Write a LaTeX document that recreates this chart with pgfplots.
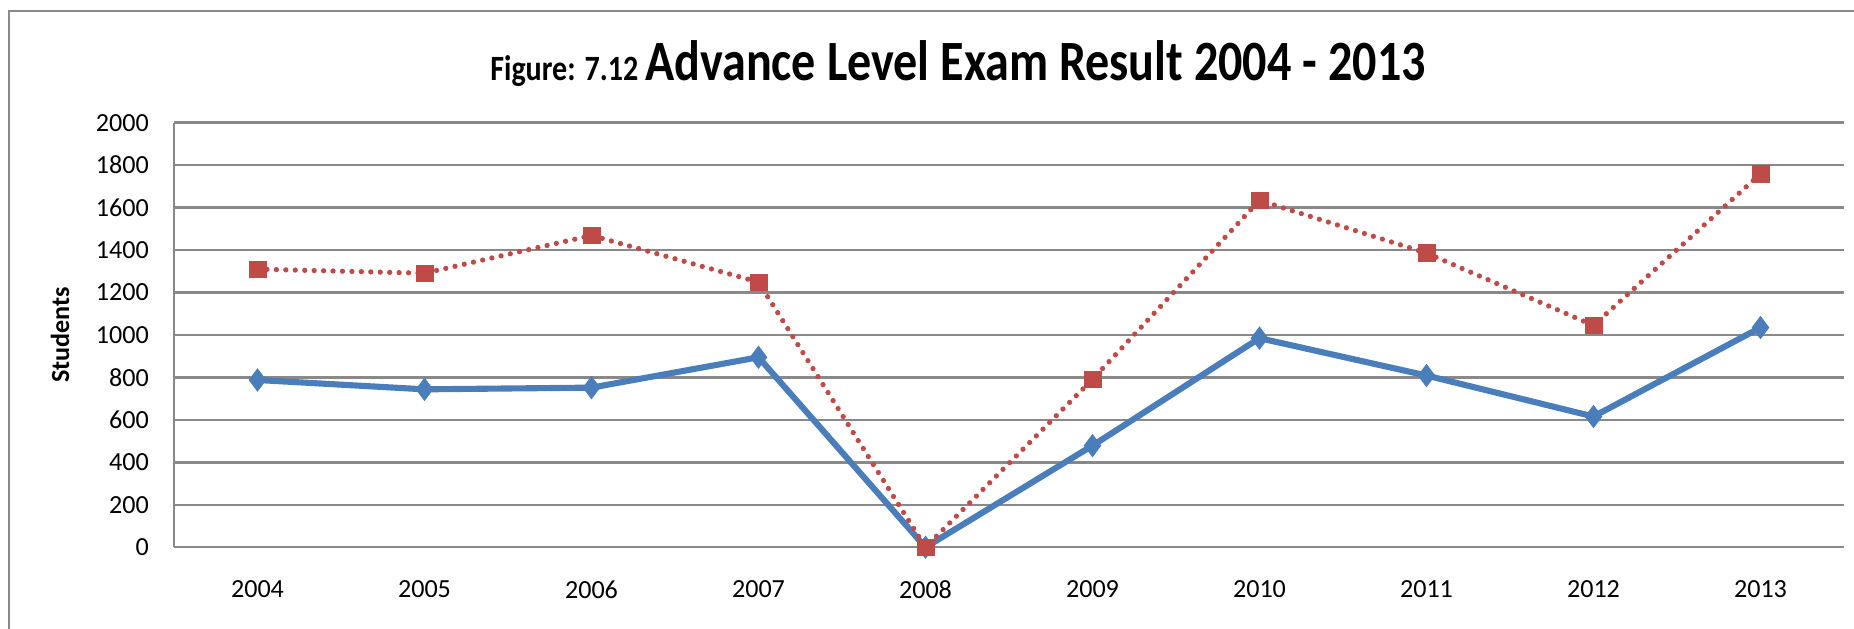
\documentclass[border=0pt]{standalone}
\usepackage{pgfplots}
\pgfplotsset{compat=1.18}
\usepackage{fontspec}
\setmainfont{Carlito}
\definecolor{blueline}{HTML}{4A7EBB}
\definecolor{redline}{HTML}{BE4B48}
\definecolor{gridgray}{HTML}{898989}
\begin{document}
\begin{tikzpicture}
\useasboundingbox (0,0) rectangle (667.44pt,226.44pt);
% outer chart frame (cut at right and bottom)
\draw[gridgray, line width=0.8pt] (3.24pt,-2pt) -- (3.24pt,222.48pt) -- (670pt,222.48pt);
\node[anchor=base, inner sep=0pt] at (344.9pt,197.6pt)
  {\scalebox{0.845}[1]{\bfseries{\fontsize{12.8}{15}\selectfont Figure: 7.12 }{\fontsize{20.5}{24}\selectfont Advance Level Exam Result 2004 - 2013}}};
\begin{axis}[
  at={(62.64pt,29.41pt)}, anchor=south west,
  scale only axis, width=601.2pt, height=152.86pt,
  xmin=-0.5, xmax=9.5, ymin=0, ymax=2000,
  xtick={0,...,9},
  xticklabels={2004,2005,2006,2007,2008,2009,2010,2011,2012,2013},
  ytick={0,200,...,2000},
  axis x line=bottom, axis y line=left,
  axis line style={-, gridgray, line width=0.85pt},
  major tick length=0pt,
  ymajorgrids, grid style={gridgray, line width=0.85pt},
  tick label style={font=\fontsize{9.4}{11}\selectfont},
  /pgf/number format/assume math mode=true,
  /pgf/number format/1000 sep={},
  yticklabel style={xshift=-5.5pt},
  xticklabel style={yshift=-8.5pt},
  ylabel={Students},
  every axis y label/.style={at={(axis description cs:-0.0682,0.5)}, rotate=90, anchor=center,
    font=\bfseries\fontsize{9.4}{11}\selectfont},
]
\addplot[blueline, line width=2.2pt, mark=diamond*, mark size=3.9pt,
  mark options={fill=blueline, draw=blueline, line width=0.4pt}]
  coordinates {(0,788) (1,744) (2,752) (3,895) (4,0) (5,479) (6,985) (7,809) (8,616) (9,1035)};
\addplot[redline, line width=1.9pt, line cap=round, dash pattern=on 0pt off 3.4pt,
  mark=square*, mark size=3.0pt,
  mark options={solid, fill=redline, draw=redline, line width=0.2pt}]
  coordinates {(0,1310) (1,1291) (2,1469) (3,1249) (4,0) (5,791) (6,1634) (7,1386) (8,1045) (9,1759)};
\end{axis}
\end{tikzpicture}
\end{document}
